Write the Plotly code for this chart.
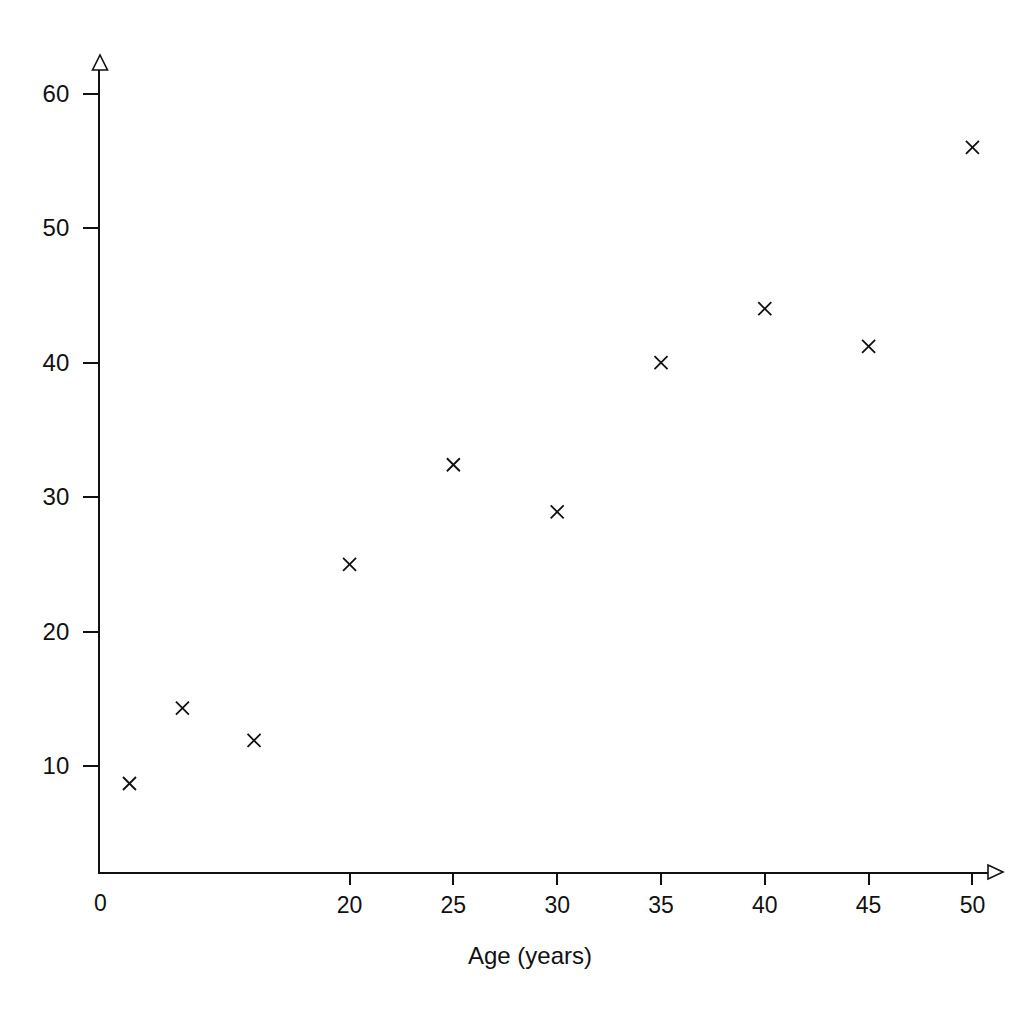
import plotly.graph_objects as go

# data
age = [9.4, 11.95, 15.4, 20, 25, 30, 35, 40, 45, 50.0]
value = [8.7, 14.3, 11.9, 25.0, 32.4, 28.9, 40.0, 44.0, 41.2, 56.0]

x_ticks = [20, 25, 30, 35, 40, 45, 50]
y_ticks = [10, 20, 30, 40, 50, 60]

x_range = [7.98, 50.75]
y_range = [2.12, 61.75]

ink = '#111111'
font_name = 'Liberation Sans, Arial, sans-serif'

fig = go.Figure()

fig.add_trace(go.Scatter(
    x=age, y=value, mode='markers',
    marker=dict(symbol='x-thin', size=13, line=dict(width=1.8, color=ink)),
    showlegend=False, hoverinfo='skip',
))

# page body has an 8px margin, so margins are trimmed by that much
fig.update_layout(
    width=1024, height=1024,
    margin=dict(l=92, r=44, t=62, b=160),
    paper_bgcolor='white', plot_bgcolor='white',
    font=dict(family=font_name, color=ink, size=23),
    xaxis=dict(
        range=x_range, tickvals=x_ticks, ticks='outside', ticklen=11,
        tickwidth=1.8, tickcolor=ink, showline=True, linewidth=1.8,
        linecolor=ink, showgrid=False, zeroline=False,
        tickfont=dict(size=23),
    ),
    # second copy of x axis only for the upper half of the crossing ticks
    xaxis2=dict(
        overlaying='x', anchor='y', side='bottom', matches='x',
        range=x_range, tickvals=x_ticks, ticks='inside', ticklen=12,
        tickwidth=1.8, tickcolor=ink, showticklabels=False,
        showline=False, showgrid=False, zeroline=False,
    ),
    yaxis=dict(
        range=y_range, tickvals=y_ticks, ticks='outside', ticklen=15,
        tickwidth=1.8, tickcolor=ink, showline=True, linewidth=1.8,
        linecolor=ink, showgrid=False, zeroline=False,
        tickfont=dict(size=24), ticklabelstandoff=9,
    ),
)

# open arrow heads at the axis ends
arrow_line = dict(color=ink, width=1.6)
fig.add_shape(type='path', xref='paper', yref='paper',
              xsizemode='pixel', ysizemode='pixel', xanchor=0, yanchor=1,
              path='M-7.5,0 L7.5,0 L0,15 Z', fillcolor='white', line=arrow_line)
fig.add_shape(type='path', xref='paper', yref='paper',
              xsizemode='pixel', ysizemode='pixel', xanchor=1, yanchor=0,
              path='M0,-7 L0,7 L15,0 Z', fillcolor='white', line=arrow_line)

fig.add_annotation(text='0', xref='paper', yref='paper', x=0, y=-0.0387,
                   showarrow=False, xanchor='center', yanchor='middle',
                   font=dict(size=23))
fig.add_annotation(text='Age (years)', xref='paper', yref='paper',
                   x=0.4837, y=-0.1035, showarrow=False,
                   xanchor='center', yanchor='middle', font=dict(size=24))

fig.write_html("out.html")
